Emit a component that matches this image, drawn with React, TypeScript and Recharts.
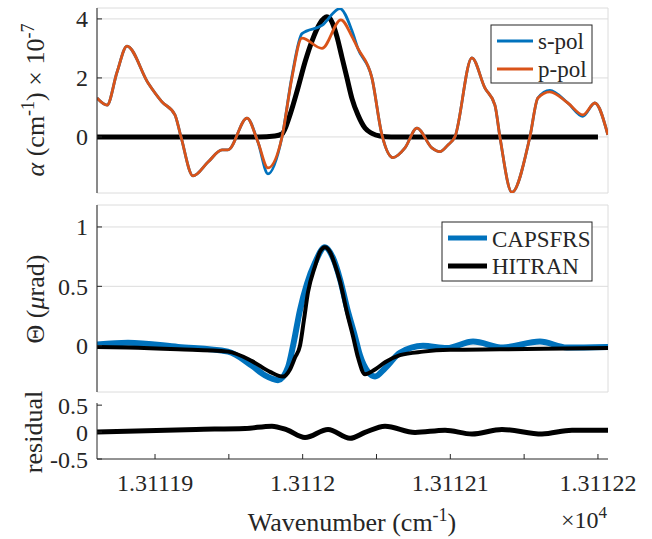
import { LineChart, Line, XAxis, YAxis, CartesianGrid } from 'recharts';

// shared wavenumber axis (cm^-1), labels shown in units of 10^4
const xTicks = [13111.9, 13111.95, 13112.0, 13112.05, 13112.1, 13112.15, 13112.2];
const xTickLabels = ['1.31119', '', '1.3112', '', '1.31121', '', '1.31122'];
const xDomain = [13111.8607, 13112.2068];

// top panel: absorption alpha (x 10^-7)
const alphaTicks = [0, 2, 4];
const sPolWave = [
  13111.8607, 13111.8675, 13111.8743, 13111.881, 13111.8953, 13111.9047, 13111.9135, 13111.9176,
  13111.9257, 13111.9359, 13111.9454, 13111.9494, 13111.9623, 13111.9697, 13111.9765, 13111.986,
  13111.9927, 13111.9995, 13112.0131, 13112.0252, 13112.0334, 13112.0374, 13112.0469, 13112.0537,
  13112.0611, 13112.0693, 13112.0774, 13112.0875, 13112.0929, 13112.0984, 13112.1031, 13112.1146,
  13112.1234, 13112.1302, 13112.1336, 13112.1417, 13112.1539, 13112.1593, 13112.1674, 13112.1796,
  13112.1898, 13112.1979, 13112.2067,
];
const sPolAlpha = [
  1.32, 1.08, 2.2, 3.08, 1.83, 1.19, 0.75, 0.0,
  -1.32, -0.85, -0.44, -0.44, 0.64, -0.17, -1.25, 0.0,
  2.05, 3.5, 3.78, 4.35, 3.6, 3.0, 2.0, 0.07,
  -0.7, -0.37, 0.3, -0.37, -0.5, -0.27, 0.0, 2.68,
  1.66, 1.08, 0.0, -1.88, 0.0, 1.32, 1.58, 1.15,
  0.7, 1.15, 0.07,
];
const pPolWave = [
  13111.8607, 13111.8675, 13111.8743, 13111.881, 13111.8953, 13111.9047, 13111.9135, 13111.9176,
  13111.9257, 13111.9359, 13111.9454, 13111.9494, 13111.9623, 13111.9697, 13111.9765, 13111.986,
  13111.9927, 13111.9995, 13112.0131, 13112.0259, 13112.0334, 13112.0374, 13112.0469, 13112.0537,
  13112.0611, 13112.0693, 13112.0774, 13112.0875, 13112.0929, 13112.0984, 13112.1031, 13112.1146,
  13112.1234, 13112.1302, 13112.1336, 13112.1417, 13112.1539, 13112.1593, 13112.1674, 13112.1796,
  13112.1898, 13112.1979, 13112.2067,
];
const pPolAlpha = [
  1.32, 1.08, 2.2, 3.08, 1.83, 1.19, 0.75, 0.0,
  -1.32, -0.85, -0.44, -0.44, 0.64, -0.17, -1.05, 0.0,
  2.0, 3.35, 3.0, 3.97, 3.4, 3.0, 2.0, 0.07,
  -0.7, -0.37, 0.3, -0.37, -0.5, -0.27, 0.0, 2.68,
  1.66, 1.08, 0.0, -1.88, 0.0, 1.32, 1.53, 1.15,
  0.75, 1.15, 0.07,
];
const hitranAlphaWave = [
  13111.8607, 13111.97, 13111.9812, 13111.986, 13111.9914, 13111.9968, 13112.0016, 13112.0063,
  13112.0117, 13112.0164, 13112.0198, 13112.0232, 13112.0266, 13112.03, 13112.0334, 13112.0374,
  13112.0422, 13112.0469, 13112.0523, 13112.06, 13112.2,
];
const hitranAlpha = [
  0, 0, 0.03, 0.1, 0.75, 1.66, 2.54, 3.25,
  3.85, 4.07, 3.9, 3.4, 2.7, 2.0, 1.3, 0.75,
  0.3, 0.12, 0.03, 0, 0,
];

// middle panel: rotation Theta (urad)
const thetaTicks = [0, 0.5, 1];
const capsWave = [
  13111.8607, 13111.8817, 13111.9156, 13111.9494, 13111.9657, 13111.9745, 13111.9833, 13111.9901,
  13111.9935, 13111.9982, 13112.0029, 13112.0084, 13112.0151, 13112.0205, 13112.0253, 13112.03,
  13112.0354, 13112.0388, 13112.0442, 13112.049, 13112.0558, 13112.0659, 13112.0815, 13112.0977,
  13112.1154, 13112.1357, 13112.1607, 13112.179, 13112.2068,
];
const capsTheta = [
  0.01, 0.025, -0.01, -0.05, -0.17, -0.25, -0.29, -0.18,
  0.0, 0.3, 0.52, 0.7, 0.83, 0.74, 0.56, 0.32,
  0.08, -0.08, -0.22, -0.26, -0.19, -0.06, 0.0, -0.02,
  0.035, -0.015, 0.035, -0.015, -0.01,
];
const hitranThetaWave = [
  13111.8607, 13111.8817, 13111.9156, 13111.9494, 13111.9657, 13111.9779, 13111.9867, 13111.9914,
  13111.9948, 13111.9982, 13112.0009, 13112.0036, 13112.0084, 13112.0117, 13112.0151, 13112.0185,
  13112.0219, 13112.0253, 13112.03, 13112.0341, 13112.0375, 13112.0422, 13112.049, 13112.0558,
  13112.0659, 13112.0815, 13112.0998, 13112.1336, 13112.2068,
];
const hitranTheta = [
  -0.01, -0.015, -0.03, -0.05, -0.13, -0.22, -0.26, -0.2,
  -0.1, 0.0, 0.22, 0.45, 0.67, 0.79, 0.83, 0.79,
  0.68, 0.54, 0.28, 0.08, -0.1, -0.24, -0.2, -0.14,
  -0.08, -0.05, -0.035, -0.03, -0.02,
];

// bottom panel: residual
const residTicks = [-0.5, 0, 0.5];
const residWave = [
  13111.8607, 13111.9277, 13111.961, 13111.9792, 13111.9894, 13112.0016, 13112.0172, 13112.0321,
  13112.0422, 13112.0558, 13112.0761, 13112.0964, 13112.1147, 13112.135, 13112.1621, 13112.1824,
  13112.2068,
];
const residual = [
  0.0, 0.05, 0.067, 0.11, 0.04, -0.1, 0.05, -0.115,
  -0.006, 0.11, -0.006, 0.036, -0.036, 0.05, -0.036, 0.036,
  0.036,
];

const BLUE = '#0072BD';
const ORANGE = '#D95319';
const INK = '#262626';
const FONT = "'Liberation Serif', 'Times New Roman', serif";

const pairs = (xs: number[], ys: number[]) => xs.map((w, i) => ({ w, v: ys[i] }));

const sPol = pairs(sPolWave, sPolAlpha);
const pPol = pairs(pPolWave, pPolAlpha);
const hitranA = pairs(hitranAlphaWave, hitranAlpha);
const caps = pairs(capsWave, capsTheta);
const hitranT = pairs(hitranThetaWave, hitranTheta);
const resid = pairs(residWave, residual);

const tickStyle = { fill: INK, fontSize: 24, fontFamily: FONT };
const fmtX = (_v: number, i: number) => xTickLabels[i] ?? '';

// box + inward ticks on all four sides, like a matlab axes
const Frame = ({ domain, ticks, showXLabels }: { domain: number[]; ticks: number[]; showXLabels?: boolean }) => [
  <XAxis
    key="xb"
    dataKey="w"
    type="number"
    domain={xDomain}
    allowDataOverflow
    ticks={xTicks}
    tickFormatter={fmtX}
    tick={showXLabels ? tickStyle : false}
    tickSize={-5}
    tickMargin={20}
    height={showXLabels ? 80 : 0}
    stroke={INK}
    interval={0}
  />,
  <XAxis
    key="xt"
    xAxisId="t"
    orientation="top"
    dataKey="w"
    type="number"
    domain={xDomain}
    allowDataOverflow
    ticks={xTicks}
    tick={false}
    tickSize={-5}
    height={0}
    stroke={INK}
  />,
  <YAxis
    key="yl"
    type="number"
    domain={domain}
    allowDataOverflow
    ticks={ticks}
    tick={tickStyle}
    tickFormatter={(v: number) => String(v)}
    tickSize={-5}
    tickMargin={14}
    width={97}
    stroke={INK}
    interval={0}
  />,
  <YAxis
    key="yr"
    yAxisId="r"
    orientation="right"
    type="number"
    domain={domain}
    allowDataOverflow
    ticks={ticks}
    tick={false}
    tickSize={-5}
    width={0}
    stroke={INK}
  />,
];

const labelStyle = { fill: INK, fontFamily: FONT, fontSize: 26 };
const legendText = { fill: INK, fontFamily: FONT, fontSize: 23 };

export default function App() {
  return (
    <div style={{ position: 'absolute', left: 0, top: 0, width: 652, height: 539, background: '#fff' }}>
      <div style={{ position: 'absolute', left: 0, top: 0 }}>
        <LineChart width={652} height={200} margin={{ top: 8, right: 44, bottom: 7, left: 0 }}>
          <CartesianGrid stroke="#dcdcdc" />
          {Frame({ domain: [-1.9, 4.37], ticks: alphaTicks })}
          <Line data={hitranA} dataKey="v" type="monotone" stroke="#000" strokeWidth={5} dot={false} isAnimationActive={false} />
          <Line data={sPol} dataKey="v" type="monotone" stroke={BLUE} strokeWidth={2.8} dot={false} isAnimationActive={false} />
          <Line data={pPol} dataKey="v" type="monotone" stroke={ORANGE} strokeWidth={2.8} dot={false} isAnimationActive={false} />
          <text x={44} y={100} transform="rotate(-90, 44, 100)" textAnchor="middle" style={labelStyle}>
            <tspan fontStyle="italic">α</tspan>
            <tspan> (cm</tspan>
            <tspan dy={-10} fontSize={18}>-1</tspan>
            <tspan dy={10}>) × 10</tspan>
            <tspan dy={-10} fontSize={18}>-7</tspan>
          </text>
          <g>
            <rect x={491} y={25} width={101} height={58} fill="#fff" stroke={INK} strokeWidth={1} />
            <line x1={497} x2={533} y1={41} y2={41} stroke={BLUE} strokeWidth={2.8} />
            <line x1={497} x2={533} y1={69} y2={69} stroke={ORANGE} strokeWidth={2.8} />
            <text x={538} y={49} style={legendText}>s-pol</text>
            <text x={538} y={77} style={legendText}>p-pol</text>
          </g>
        </LineChart>
      </div>
      <div style={{ position: 'absolute', left: 0, top: 200 }}>
        <LineChart width={652} height={200} margin={{ top: 5, right: 44, bottom: 8, left: 0 }}>
          <CartesianGrid stroke="#dcdcdc" />
          {Frame({ domain: [-0.39, 1.185], ticks: thetaTicks })}
          <Line data={caps} dataKey="v" type="monotone" stroke={BLUE} strokeWidth={6} dot={false} isAnimationActive={false} />
          <Line data={hitranT} dataKey="v" type="monotone" stroke="#000" strokeWidth={4} dot={false} isAnimationActive={false} />
          <text x={44} y={99} transform="rotate(-90, 44, 99)" textAnchor="middle" style={labelStyle}>
            <tspan>Θ (</tspan>
            <tspan fontStyle="italic">μ</tspan>
            <tspan>rad)</tspan>
          </text>
          <g>
            <rect x={442} y={22} width={150} height={59} fill="#fff" stroke={INK} strokeWidth={1} />
            <line x1={448} x2={487} y1={38} y2={38} stroke={BLUE} strokeWidth={5} />
            <line x1={448} x2={487} y1={66} y2={66} stroke="#000" strokeWidth={5} />
            <text x={492} y={47} style={legendText}>CAPSFRS</text>
            <text x={492} y={74} style={legendText}>HITRAN</text>
          </g>
        </LineChart>
      </div>
      <div style={{ position: 'absolute', left: 0, top: 360 }}>
        <LineChart width={652} height={179} margin={{ top: 43, right: 44, bottom: 0, left: 0 }}>
          {Frame({ domain: [-0.5, 0.54], ticks: residTicks, showXLabels: true })}
          <Line data={resid} dataKey="v" type="monotone" stroke="#000" strokeWidth={5} dot={false} isAnimationActive={false} />
          <text x={42} y={72} transform="rotate(-90, 42, 72)" textAnchor="middle" style={labelStyle}>
            residual
          </text>
          <text x={352} y={171} textAnchor="middle" style={labelStyle}>
            <tspan>Wavenumber (cm</tspan>
            <tspan dy={-10} fontSize={18}>-1</tspan>
            <tspan dy={10}>)</tspan>
          </text>
          <text x={607} y={168} textAnchor="end" style={{ fill: INK, fontFamily: FONT, fontSize: 24 }}>
            <tspan>×10</tspan>
            <tspan dy={-10} fontSize={17}>4</tspan>
          </text>
        </LineChart>
      </div>
    </div>
  );
}
